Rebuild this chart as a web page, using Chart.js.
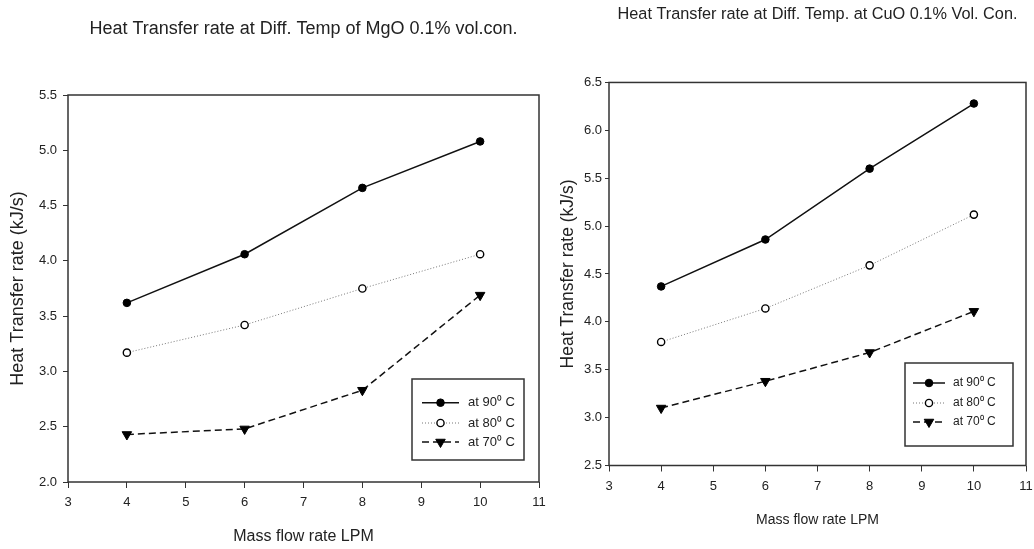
<!DOCTYPE html>
<html><head><meta charset="utf-8">
<script src="https://cdn.jsdelivr.net/npm/chart.js@4.4.1/dist/chart.umd.min.js"></script>
<style>
html,body{margin:0;padding:0;background:#fff;width:1034px;height:549px;overflow:hidden}
.box{position:absolute;top:0;height:549px}
#w1{left:0;width:548px}
#w2{left:548px;width:486px}
</style></head><body>
<div class="box" id="w1"><canvas id="c1"></canvas></div>
<div class="box" id="w2"><canvas id="c2"></canvas></div>
<script>
// ---- data ----
const flowRates = [4, 6, 8, 10];
const seriesLabels = ['at 90\u2070 C', 'at 80\u2070 C', 'at 70\u2070 C'];
const mgo90 = [3.62, 4.06, 4.66, 5.08];
const mgo80 = [3.17, 3.42, 3.75, 4.06];
const mgo70 = [2.43, 2.48, 2.83, 3.69];
const cuo90 = [4.37, 4.86, 5.60, 6.28];
const cuo80 = [3.79, 4.14, 4.59, 5.12];
const cuo70 = [3.10, 3.38, 3.68, 4.11];
const mgoTitle = 'Heat Transfer rate at Diff. Temp of MgO 0.1% vol.con.';
const cuoTitle = 'Heat Transfer rate at Diff. Temp. at CuO 0.1% Vol. Con.';
const xAxisTitle = 'Mass flow rate LPM';
const yAxisTitle = 'Heat Transfer rate (kJ/s)';
const xRange = [3, 11];
const mgoYRange = [2.0, 5.5];
const cuoYRange = [2.5, 6.5];

const FONT = "'Liberation Sans', Arial, sans-serif";
const INK = '#222';

function pts(ys) { return flowRates.map((x, i) => ({x: x, y: ys[i]})); }

function makeDatasets(a, b, c) {
  return [
    {label: seriesLabels[0], data: pts(a), borderColor: '#111', borderWidth: 1.5,
     pointStyle: 'circle', pointRadius: 3.8, pointBackgroundColor: '#000', pointBorderColor: '#000', pointBorderWidth: 1, pointRotation: 0},
    {label: seriesLabels[1], data: pts(b), borderColor: '#777', borderWidth: 1, borderDash: [1, 2],
     pointStyle: 'circle', pointRadius: 3.6, pointBackgroundColor: '#fff', pointBorderColor: '#000', pointBorderWidth: 1.4, pointRotation: 0},
    {label: seriesLabels[2], data: pts(c), borderColor: '#111', borderWidth: 1.5, borderDash: [7, 4],
     pointStyle: 'triangle', pointRadius: 5.5, pointBackgroundColor: '#000', pointBorderColor: '#000', pointBorderWidth: 1, pointRotation: 180}
  ];
}

function drawMarker(ctx, ds, x, y) {
  ctx.save();
  ctx.setLineDash([]);
  ctx.fillStyle = ds.pointBackgroundColor;
  ctx.strokeStyle = ds.pointBorderColor;
  ctx.lineWidth = ds.pointBorderWidth;
  const r = ds.pointRadius;
  ctx.beginPath();
  if (ds.pointStyle === 'triangle') {
    let rad = (ds.pointRotation || 0) * Math.PI / 180;
    for (let k = 0; k < 3; k++) {
      const px = x + Math.sin(rad) * r, py = y - Math.cos(rad) * r;
      if (k === 0) ctx.moveTo(px, py); else ctx.lineTo(px, py);
      rad += 2 * Math.PI / 3;
    }
    ctx.closePath();
  } else {
    ctx.arc(x, y, r, 0, Math.PI * 2);
  }
  ctx.fill(); ctx.stroke();
  ctx.restore();
}

const framePlugin = {
  id: 'frame',
  afterDatasetsDraw(chart) {
    const a = chart.chartArea, ctx = chart.ctx;
    ctx.save();
    ctx.strokeStyle = '#333'; ctx.lineWidth = 1.5;
    ctx.strokeRect(a.left, a.top, a.right - a.left, a.bottom - a.top);
    ctx.restore();
  }
};

const boxLegendPlugin = {
  id: 'boxLegend',
  afterDraw(chart, args, o) {
    const a = chart.chartArea, ctx = chart.ctx;
    const bx = a.right - o.right - o.w, by = a.bottom - o.bottom - o.h;
    ctx.save();
    ctx.fillStyle = '#fff';
    ctx.fillRect(bx, by, o.w, o.h);
    ctx.strokeStyle = '#333'; ctx.lineWidth = 1.5;
    ctx.strokeRect(bx, by, o.w, o.h);
    chart.data.datasets.forEach((ds, i) => {
      const y = by + o.rows[i];
      ctx.save();
      ctx.strokeStyle = ds.borderColor; ctx.lineWidth = ds.borderWidth;
      ctx.setLineDash(ds.borderDash || []);
      ctx.beginPath();
      ctx.moveTo(bx + o.lineStart, y); ctx.lineTo(bx + o.lineEnd, y);
      ctx.stroke();
      ctx.restore();
      drawMarker(ctx, ds, bx + (o.lineStart + o.lineEnd) / 2, y);
      ctx.fillStyle = INK;
      ctx.font = o.fontSize + 'px ' + FONT;
      ctx.textBaseline = 'middle'; ctx.textAlign = 'left';
      ctx.fillText(ds.label, bx + o.textX, y);
    });
    ctx.restore();
  }
};

function makeChart(id, title, titleFont, titlePad, yRange, datasets, geo, legendOpts) {
  return new Chart(document.getElementById(id), {
    type: 'line',
    data: {datasets: datasets},
    plugins: [framePlugin, boxLegendPlugin],
    options: {
      responsive: true, maintainAspectRatio: false, animation: false,
      layout: {padding: {left: 0, right: geo.padRight, top: 0, bottom: 0}},
      elements: {line: {tension: 0, fill: false}},
      plugins: {
        legend: {display: false},
        tooltip: {enabled: false},
        title: {display: true, text: title, fullSize: false, color: INK,
                font: {family: FONT, size: titleFont, weight: 'normal'}, padding: titlePad},
        boxLegend: legendOpts
      },
      scales: {
        x: {
          type: 'linear', min: xRange[0], max: xRange[1],
          afterFit(s) { s.height = geo.xHeight; s.paddingRight = 0; s.paddingLeft = 0; },
          border: {display: false},
          grid: {drawOnChartArea: false, drawTicks: true, tickLength: geo.xTick, color: '#333', lineWidth: 1},
          ticks: {stepSize: 1, padding: geo.xPad, color: INK, font: {family: FONT, size: 13},
                  maxRotation: 0, autoSkip: false, callback: v => String(v)},
          title: {display: true, text: xAxisTitle, color: INK, font: {family: FONT, size: geo.xTitleFont},
                  padding: {top: 0, bottom: geo.xTitlePad}}
        },
        y: {
          type: 'linear', min: yRange[0], max: yRange[1],
          afterFit(s) { s.width = geo.yWidth; },
          border: {display: false},
          grid: {drawOnChartArea: false, drawTicks: true, tickLength: geo.yTick, color: '#333', lineWidth: 1},
          ticks: {stepSize: 0.5, padding: geo.yPad, color: INK, font: {family: FONT, size: 13},
                  callback: v => Number(v).toFixed(1)},
          title: {display: true, text: yAxisTitle, color: INK, font: {family: FONT, size: geo.yTitleFont},
                  padding: {top: geo.yTitlePad, bottom: 0}}
        }
      }
    }
  });
}

makeChart('c1', mgoTitle, 18, {top: 18.2, bottom: 55.2}, mgoYRange, makeDatasets(mgo90, mgo80, mgo70),
  {padRight: 9, xHeight: 67, xTick: 6, xPad: 7, xTitleFont: 16, xTitlePad: 2.4, yWidth: 68, yTick: 5, yPad: 6, yTitleFont: 18, yTitlePad: 7},
  {right: 15, bottom: 22, w: 112, h: 81, rows: [23.7, 44, 63], lineStart: 10, lineEnd: 47, textX: 56, fontSize: 13});

makeChart('c2', cuoTitle, 16.3, {top: 5.2, bottom: 57.7}, cuoYRange, makeDatasets(cuo90, cuo80, cuo70),
  {padRight: 8, xHeight: 83.5, xTick: 6, xPad: 7.4, xTitleFont: 14, xTitlePad: 20.6, yWidth: 61, yTick: 4, yPad: 3, yTitleFont: 17.5, yTitlePad: 9.5},
  {right: 13, bottom: 19.5, w: 108, h: 83, rows: [20, 40, 59], lineStart: 8, lineEnd: 40, textX: 48, fontSize: 12});
</script>
</body></html>
